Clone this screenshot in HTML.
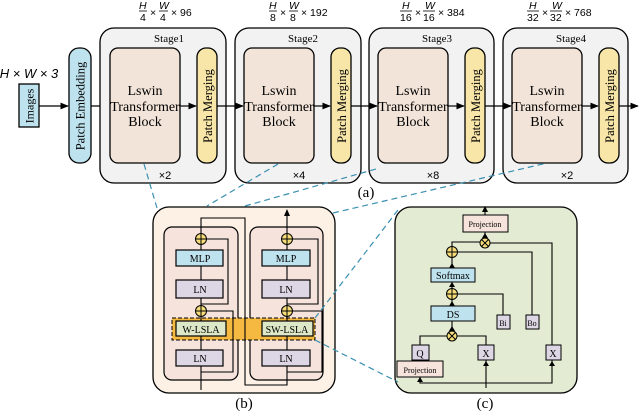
<!DOCTYPE html>
<html><head><meta charset="utf-8"><style>html,body{margin:0;padding:0;background:#fff}svg{display:block}</style></head><body>
<svg width="640" height="415" viewBox="0 0 640 415" xmlns="http://www.w3.org/2000/svg" font-family="Liberation Serif, serif">
<defs>
<marker id="a" viewBox="0 0 10 10" refX="9" refY="5" markerWidth="7" markerHeight="7" orient="auto"><path d="M0,1 L10,5 L0,9 z" fill="#000"/></marker>
<g id="plus"><circle r="5.5" fill="#f5dc7a" stroke="#000" stroke-width="1"/><path d="M-5.5,0H5.5M0,-5.5V5.5" stroke="#000" stroke-width="1"/></g>
<g id="times"><circle r="5" fill="#f5dc7a" stroke="#000" stroke-width="1"/><path d="M-3.5,-3.5L3.5,3.5M-3.5,3.5L3.5,-3.5" stroke="#000" stroke-width="1"/></g>
</defs>

<!-- (a) -->
<text x="29" y="78" font-family="Liberation Sans, sans-serif" font-size="13" text-anchor="middle" font-style="italic">H × W × 3</text>
<rect x="19" y="84" width="20" height="43" fill="#bfe3ee" stroke="#000" stroke-width="1.3"/>
<text transform="translate(33.5,106) rotate(-90)" font-size="12" text-anchor="middle">Images</text>
<rect x="69" y="48" width="22" height="115" rx="10" fill="#bfe3ee" stroke="#000" stroke-width="1.3"/>
<text transform="translate(84.5,106) rotate(-90)" font-size="12.5" text-anchor="middle">Patch Embedding</text>
<line x1="39" y1="106" x2="68" y2="106" stroke="#000" stroke-width="1.2" marker-end="url(#a)"/>
<line x1="91" y1="106" x2="109" y2="106" stroke="#000" stroke-width="1.2" marker-end="url(#a)"/>

<g stroke="#000" stroke-width="1.3">
<rect x="100" y="28" width="126" height="155" rx="14" fill="#f2f2f2"/>
<rect x="235" y="28" width="126" height="155" rx="14" fill="#f2f2f2"/>
<rect x="369" y="28" width="125" height="155" rx="14" fill="#f2f2f2"/>
<rect x="503" y="28" width="125" height="155" rx="14" fill="#f2f2f2"/>
<rect x="110" y="48" width="70" height="115" rx="8" fill="#f2e4d8"/>
<rect x="244" y="48" width="70" height="115" rx="8" fill="#f2e4d8"/>
<rect x="378" y="48" width="70" height="115" rx="8" fill="#f2e4d8"/>
<rect x="512" y="48" width="70" height="115" rx="8" fill="#f2e4d8"/>
<rect x="197" y="48" width="20" height="115" rx="9" fill="#f7e6a8"/>
<rect x="331" y="48" width="20" height="115" rx="9" fill="#f7e6a8"/>
<rect x="465" y="48" width="20" height="115" rx="9" fill="#f7e6a8"/>
<rect x="599" y="48" width="20" height="115" rx="9" fill="#f7e6a8"/>
</g>
<g font-size="11" text-anchor="middle">
<text x="169" y="42">Stage1</text><text x="303" y="42">Stage2</text><text x="437" y="42">Stage3</text><text x="571" y="42">Stage4</text>
<text transform="translate(212,106) rotate(-90)" font-size="12.5">Patch Merging</text>
<text transform="translate(346,106) rotate(-90)" font-size="12.5">Patch Merging</text>
<text transform="translate(480,106) rotate(-90)" font-size="12.5">Patch Merging</text>
<text transform="translate(614,106) rotate(-90)" font-size="12.5">Patch Merging</text>
</g>
<g font-size="14" text-anchor="middle">
<text x="145" y="95">Lswin</text><text x="145" y="111">Transformer</text><text x="145" y="126">Block</text>
<text x="279" y="95">Lswin</text><text x="279" y="111">Transformer</text><text x="279" y="126">Block</text>
<text x="413" y="95">Lswin</text><text x="413" y="111">Transformer</text><text x="413" y="126">Block</text>
<text x="547" y="95">Lswin</text><text x="547" y="111">Transformer</text><text x="547" y="126">Block</text>
</g>
<g font-family="Liberation Sans, sans-serif" font-size="11" text-anchor="middle">
<text x="165" y="179">×2</text><text x="299" y="179">×4</text><text x="433" y="179">×8</text><text x="567" y="179">×2</text>
</g>
<g stroke="#000" stroke-width="1.2" marker-end="url(#a)">
<line x1="180" y1="106" x2="196" y2="106"/><line x1="217" y1="106" x2="243" y2="106"/>
<line x1="314" y1="106" x2="330" y2="106"/><line x1="351" y1="106" x2="377" y2="106"/>
<line x1="448" y1="106" x2="464" y2="106"/><line x1="485" y1="106" x2="511" y2="106"/>
<line x1="582" y1="106" x2="598" y2="106"/><line x1="619" y1="106" x2="638" y2="106"/>
</g>
<g font-family="Liberation Sans, sans-serif" font-size="10.5">
<g transform="translate(139,0)"><text x="0" y="9" font-style="italic">H</text><line x1="0" y1="11" x2="8" y2="11" stroke="#000" stroke-width="0.8"/><text x="1" y="21">4</text><text x="11" y="16">×</text><text x="20" y="9" font-style="italic">W</text><line x1="20" y1="11" x2="29" y2="11" stroke="#000" stroke-width="0.8"/><text x="21" y="21">4</text><text x="32" y="16">× 96</text></g>
<g transform="translate(269,0)"><text x="0" y="9" font-style="italic">H</text><line x1="0" y1="11" x2="8" y2="11" stroke="#000" stroke-width="0.8"/><text x="1" y="21">8</text><text x="11" y="16">×</text><text x="20" y="9" font-style="italic">W</text><line x1="20" y1="11" x2="29" y2="11" stroke="#000" stroke-width="0.8"/><text x="21" y="21">8</text><text x="32" y="16">× 192</text></g>
<g transform="translate(400,0)"><text x="2" y="9" font-style="italic">H</text><line x1="0" y1="11" x2="12" y2="11" stroke="#000" stroke-width="0.8"/><text x="0" y="21">16</text><text x="15" y="16">×</text><text x="25" y="9" font-style="italic">W</text><line x1="23" y1="11" x2="35" y2="11" stroke="#000" stroke-width="0.8"/><text x="23" y="21">16</text><text x="38" y="16">× 384</text></g>
<g transform="translate(527,0)"><text x="2" y="9" font-style="italic">H</text><line x1="0" y1="11" x2="12" y2="11" stroke="#000" stroke-width="0.8"/><text x="0" y="21">32</text><text x="15" y="16">×</text><text x="25" y="9" font-style="italic">W</text><line x1="23" y1="11" x2="35" y2="11" stroke="#000" stroke-width="0.8"/><text x="23" y="21">32</text><text x="38" y="16">× 768</text></g>
</g>
<text x="366" y="197" font-size="15" text-anchor="middle">(a)</text>

<!-- (b) -->
<rect x="153" y="207" width="182" height="186" rx="16" fill="#fdf1e6" stroke="#000" stroke-width="1.3"/>
<rect x="164" y="227" width="74" height="153" rx="8" fill="#f5e3dc" stroke="#000" stroke-width="1.2"/>
<rect x="250" y="227" width="73" height="153" rx="8" fill="#f5e3dc" stroke="#000" stroke-width="1.2"/>
<rect x="172" y="318" width="143" height="22" fill="#f5b942" stroke="#000" stroke-width="1" stroke-dasharray="4,2"/>
<g stroke="#000" stroke-width="1.2">
<rect x="176" y="250" width="47" height="16" fill="#bfe3ee"/><rect x="176" y="280" width="47" height="18" fill="#ddd6e4"/>
<rect x="176" y="321" width="50" height="15" fill="#dde8c8"/><rect x="176" y="350" width="47" height="16" fill="#ddd6e4"/>
<rect x="262" y="250" width="48" height="16" fill="#bfe3ee"/><rect x="262" y="280" width="48" height="18" fill="#ddd6e4"/>
<rect x="262" y="321" width="51" height="15" fill="#dde8c8"/><rect x="262" y="350" width="48" height="16" fill="#ddd6e4"/>
</g>
<g font-size="10" text-anchor="middle">
<text x="200" y="262">MLP</text><text x="200" y="293">LN</text><text x="201" y="333">W-LSLA</text><text x="200" y="362">LN</text>
<text x="286" y="262">MLP</text><text x="286" y="293">LN</text><text x="287" y="333">SW-LSLA</text><text x="286" y="362">LN</text>
</g>
<g fill="none" stroke="#000" stroke-width="1.1">
<path d="M201,390V366M201,350V336M201,321V317M201,305V298M201,280V266M201,250V245M201,233V218H245V385H287V366"/>
<path d="M201,372H233V311H207"/><path d="M201,304H228V239H207"/>
<path d="M287,350V336M287,321V317M287,305V298M287,280V266M287,250V245M287,233V212"/>
<path d="M287,372H322V311H293"/><path d="M287,304H318V239H293"/>
</g>
<use href="#plus" x="201" y="239"/><use href="#plus" x="201" y="311"/>
<use href="#plus" x="287" y="239"/><use href="#plus" x="287" y="311"/>
<path d="M284,216L287,209L290,216z"/>
<text x="244" y="408" font-size="15" text-anchor="middle">(b)</text>

<!-- (c) -->
<rect x="395" y="207" width="182" height="186" rx="16" fill="#e3ebd3" stroke="#000" stroke-width="1.3"/>
<g stroke="#000" stroke-width="1">
<rect x="463" y="215" width="45" height="17" fill="#f5e3dc"/>
<rect x="431" y="268" width="44" height="14" fill="#bfe3ee"/>
<rect x="431" y="306" width="44" height="15" fill="#bfe3ee"/>
<rect x="497" y="315" width="13" height="14" fill="#ddd6e4"/>
<rect x="526" y="315" width="13" height="14" fill="#ddd6e4"/>
<rect x="412" y="345" width="17" height="15" fill="#ddd6e4"/>
<rect x="478" y="345" width="16" height="15" fill="#ddd6e4"/>
<rect x="546" y="345" width="15" height="15" fill="#ddd6e4"/>
<rect x="397" y="361" width="46" height="16" fill="#f5e3dc"/>
</g>
<g font-size="8" text-anchor="middle">
<text x="485" y="227">Projection</text><text x="420" y="373">Projection</text>
</g>
<g font-size="10" text-anchor="middle">
<text x="453" y="279">Softmax</text><text x="453" y="318">DS</text>
<text x="503" y="326" font-size="8">Bi</text><text x="532" y="326" font-size="8">Bo</text>
<text x="420" y="357">Q</text><text x="486" y="357">X</text><text x="553" y="357">X</text>
</g>
<g fill="none" stroke="#000" stroke-width="1.1">
<path d="M485,215V208"/><path d="M485,238V232"/>
<path d="M452,247V242H480"/><path d="M552,345V243H490"/>
<path d="M452,268V257"/><path d="M532,315V252H458"/>
<path d="M452,306V299"/><path d="M452,289V282"/><path d="M503,315V294H458"/>
<path d="M452,331V321"/><path d="M420,345V336H447"/><path d="M486,345V336H457"/>
<path d="M486,388V360"/>
<path d="M420,377V383H552V360"/>
</g>
<g>
<path d="M482,212L485,206L488,212z"/><path d="M482,238L485,233L488,238z"/>
<path d="M449,268L452,263L455,268z"/><path d="M449,306L452,301L455,306z"/>
<path d="M449,331L452,326L455,331z"/><path d="M449,287L452,282L455,287z"/>
<path d="M549,366L552,361L555,366z"/><path d="M483,366L486,361L489,366z"/>
<path d="M417,382L420,377L423,382z"/>
</g>
<use href="#times" x="485" y="243"/><use href="#plus" x="452" y="252"/>
<use href="#plus" x="452" y="294"/><use href="#times" x="452" y="336"/>
<text x="485" y="408" font-size="15" text-anchor="middle">(c)</text>

<g stroke="#3a8fb0" stroke-width="1.2" stroke-dasharray="6,4" fill="none">
<line x1="144" y1="164" x2="157" y2="208"/>
<line x1="278" y1="164" x2="207" y2="206"/>
<line x1="245" y1="206" x2="376" y2="169"/>
<line x1="333" y1="213" x2="547" y2="163"/>
<line x1="315" y1="318" x2="398" y2="210"/>
<line x1="315" y1="340" x2="398" y2="382"/>
</g>
</svg>
</body></html>
